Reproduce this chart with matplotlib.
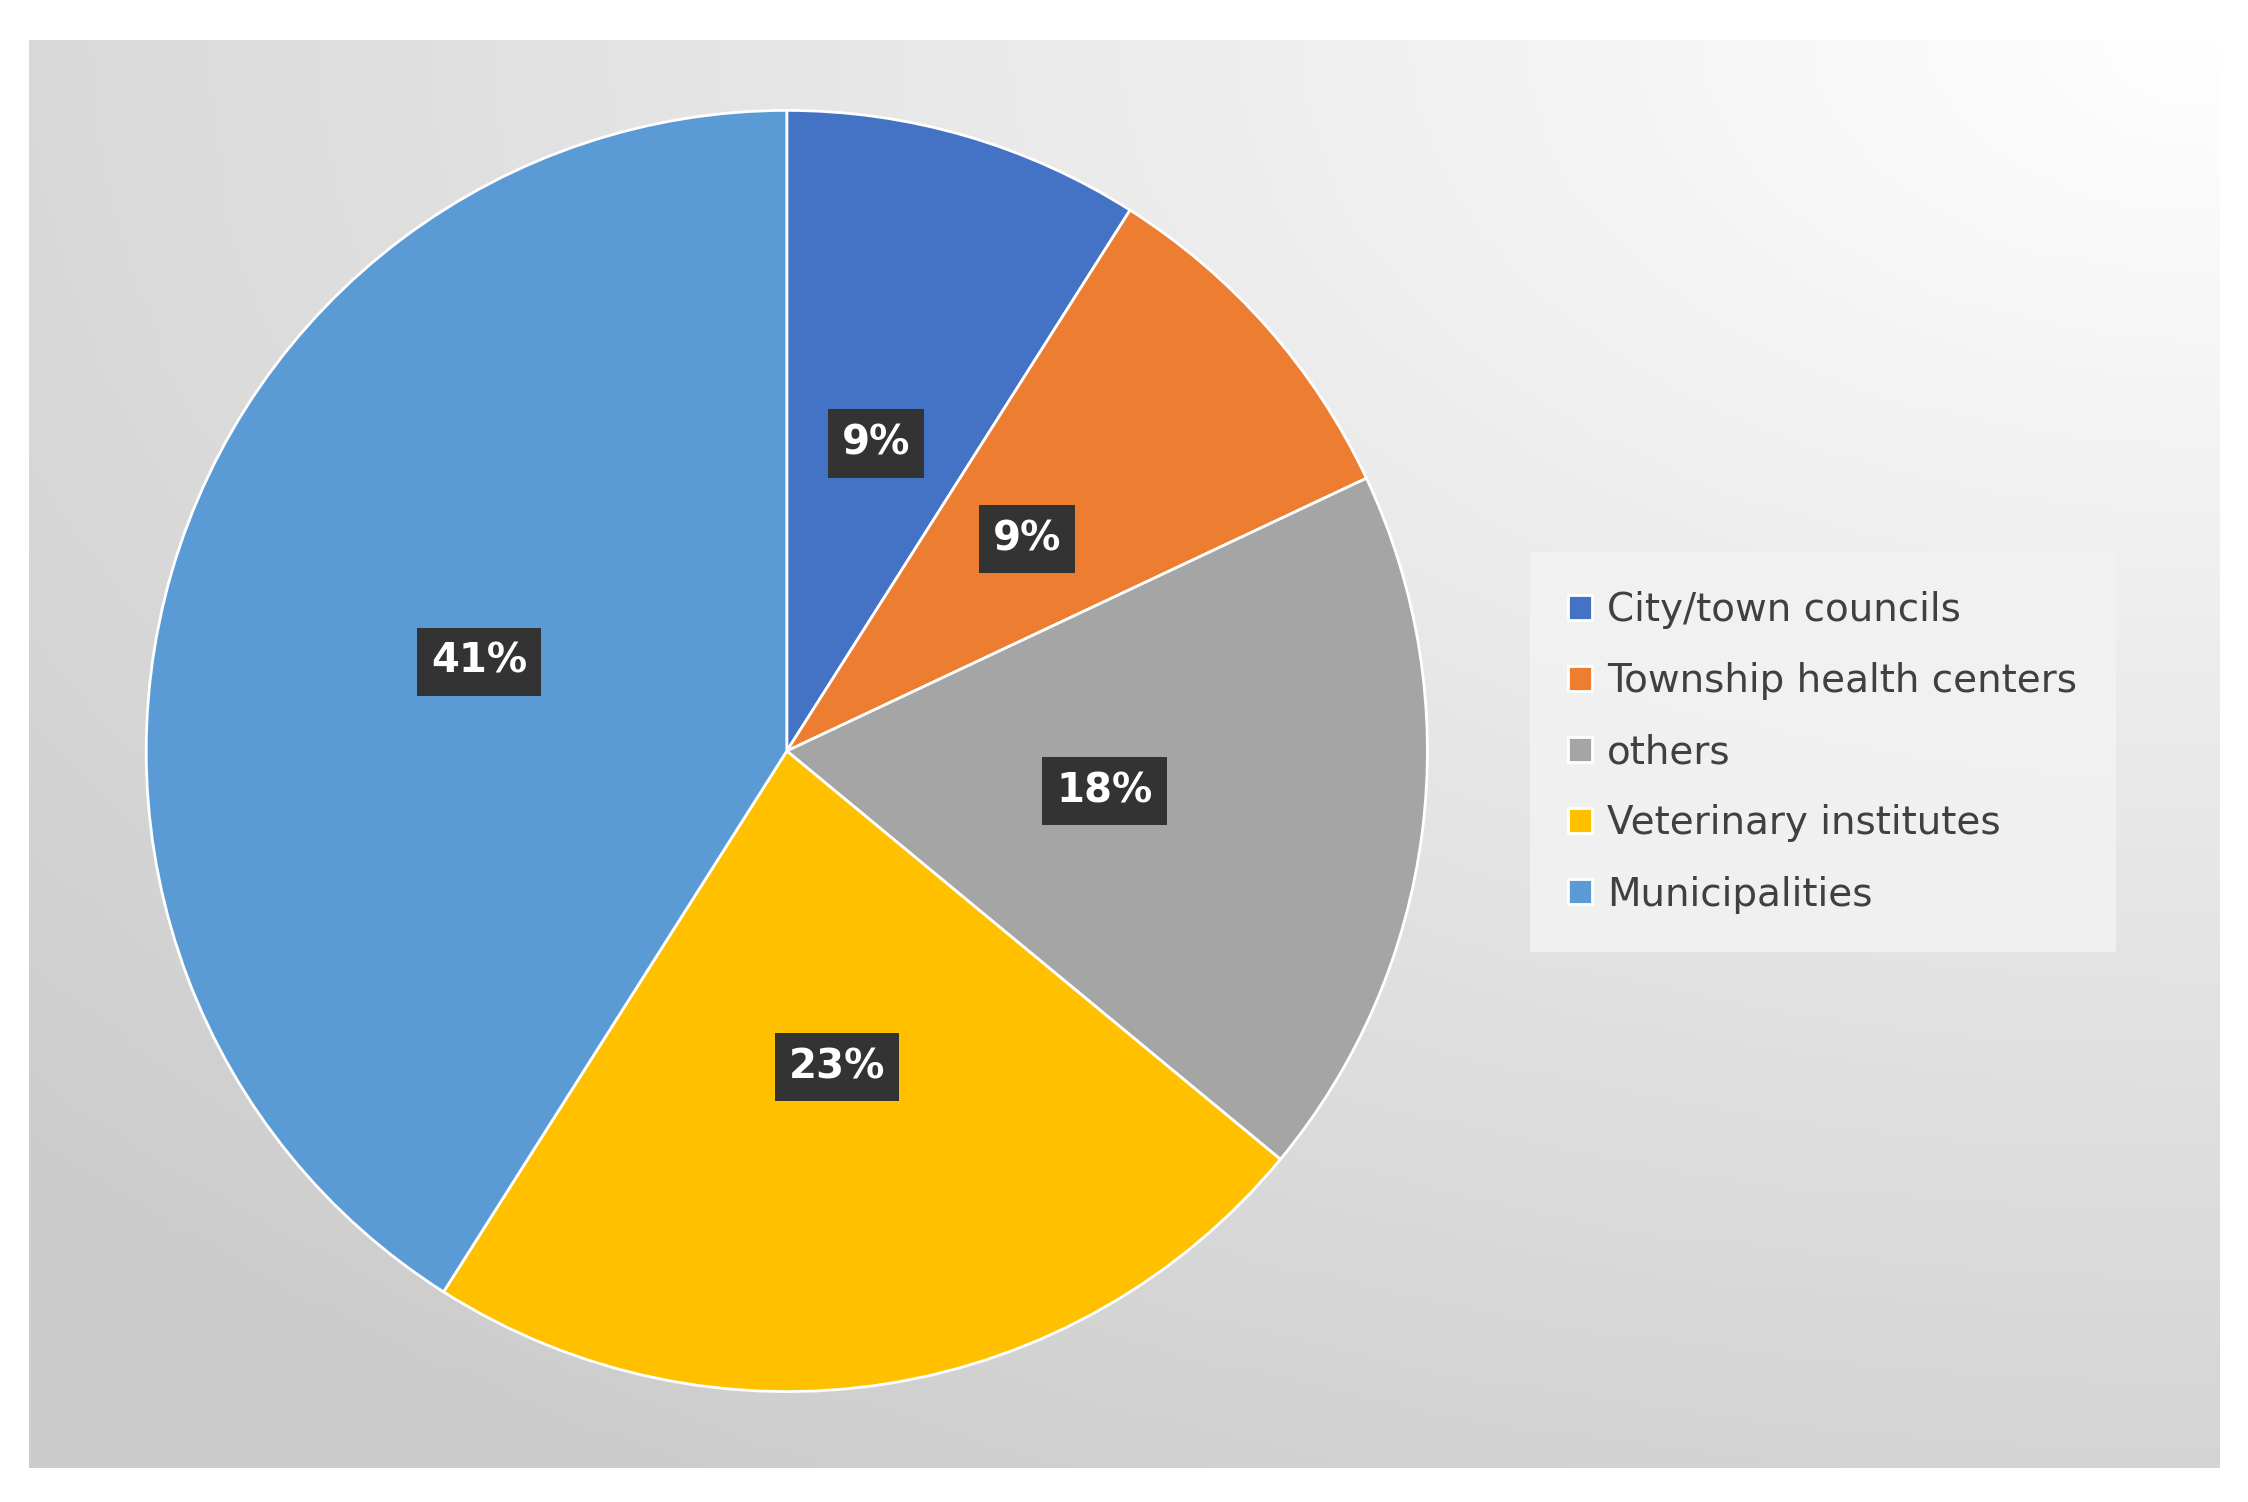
import numpy as np
import matplotlib.pyplot as plt

labels = ['City/town councils', 'Township health centers', 'others',
          'Veterinary institutes', 'Municipalities']
shares = [9, 9, 18, 23, 41]
colors = ['#4472C4', '#ED7D31', '#A5A5A5', '#FFC000', '#5B9BD5']

fig = plt.figure(figsize=(22.48, 15.02), dpi=100)
fig.patch.set_facecolor('white')

# gradient background panel
bg = fig.add_axes([20/1568, 1-1024/1048, 1528/1568, 996/1048])
yy, xx = np.mgrid[0:1:200j, 0:1:300j]
d = np.sqrt((1 - xx)**2 * 0.8 + (yy)**2)
g = 1.0 - 0.2 * np.clip(d / 1.2, 0, 1)
bg.imshow(np.dstack([g, g, g]), aspect='auto', extent=[0, 1, 0, 1], origin='upper')
bg.axis('off')

ax = fig.add_axes([0.065, 0.0735, 0.570, 0.853])
wedges, texts, autotexts = ax.pie(
    shares, colors=colors, startangle=90, counterclock=False,
    autopct='%d%%', pctdistance=0.5,
    wedgeprops=dict(linewidth=2, edgecolor='white'),
    textprops=dict(color='white', fontsize=29, fontweight='bold'))
for t in autotexts:
    t.set_bbox(dict(boxstyle='square,pad=0.35', facecolor='#333333', edgecolor='none'))
ax.set_xlim(-1, 1)
ax.set_ylim(-1, 1)
ax.set_aspect('equal')

leg = fig.legend(wedges, labels, loc='center left', bbox_to_anchor=(1075/1568, 1-525/1048),
                 fontsize=28, frameon=True, handlelength=0.6, handleheight=0.6,
                 labelspacing=0.85, borderpad=0.7, handletextpad=0.4,
                 labelcolor='#404040', borderaxespad=0)
leg.get_frame().set_facecolor('#f2f2f2')
leg.get_frame().set_edgecolor('none')
leg.get_frame().set_alpha(0.9)
leg.get_frame().set_boxstyle('square')

fig.savefig('out.png', dpi=100)
